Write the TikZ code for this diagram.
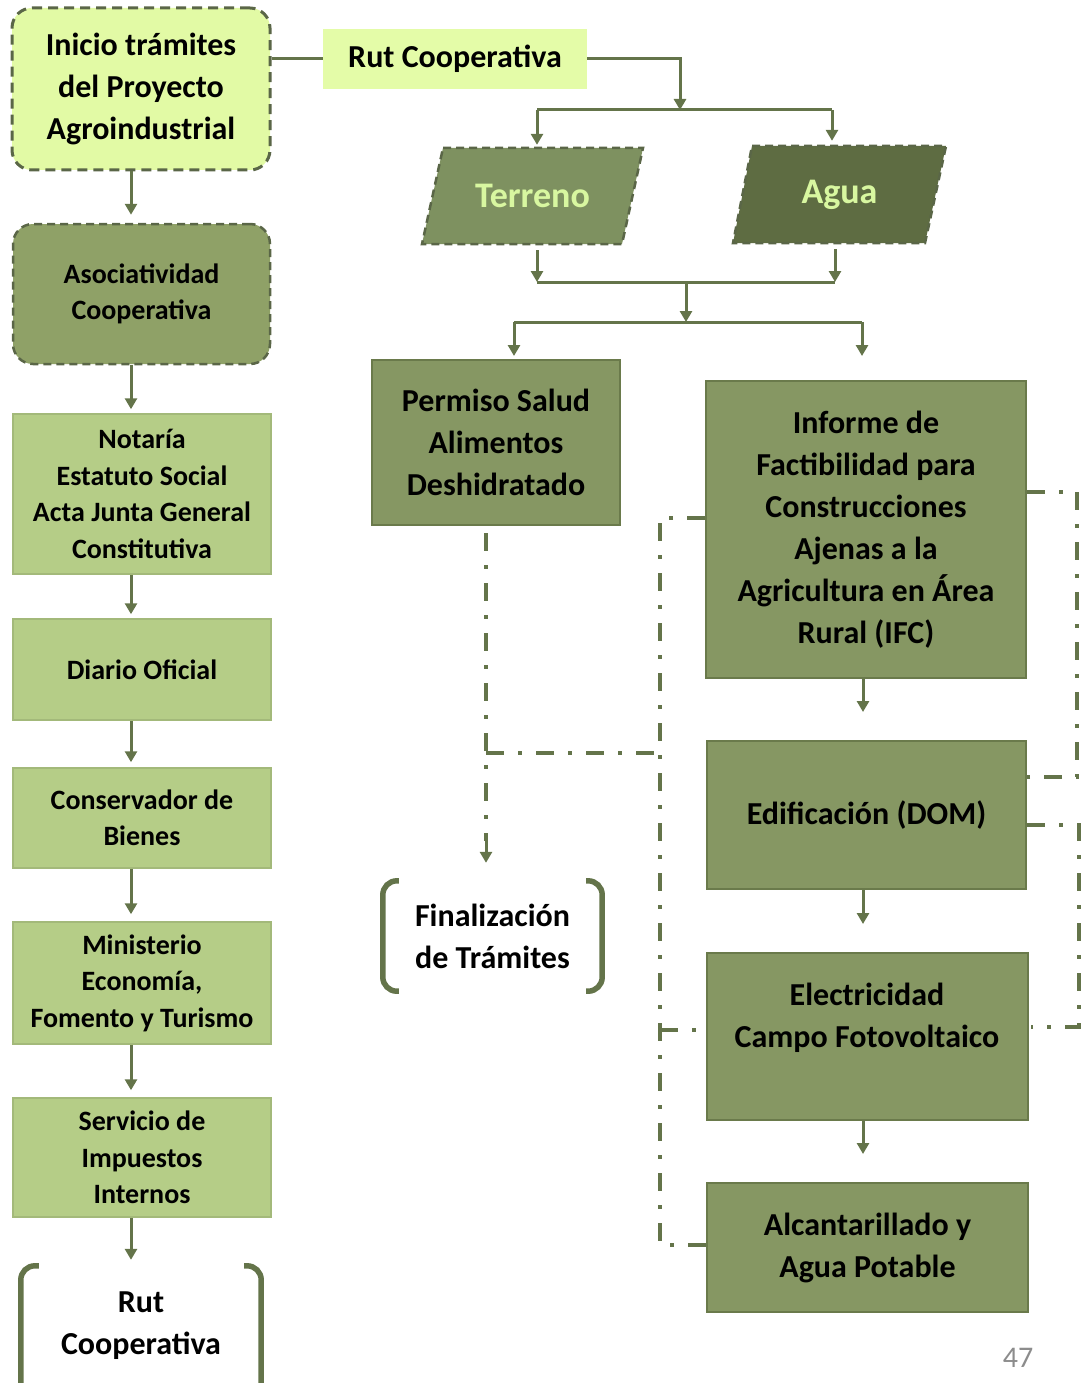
\documentclass[tikz,border=0pt]{standalone}
\usepackage{fontspec}
\setmainfont{Carlito}
\usetikzlibrary{arrows.meta,calc}
\definecolor{lineC}{HTML}{64744A}
\definecolor{dashB}{HTML}{5A6647}
\definecolor{inicioF}{HTML}{E2FAA5}
\definecolor{rutF}{HTML}{E4FCA8}
\definecolor{asocF}{HTML}{8FA167}
\definecolor{lightF}{HTML}{B5CD87}
\definecolor{lightB}{HTML}{A3B97A}
\definecolor{darkF}{HTML}{869763}
\definecolor{darkB}{HTML}{6A7A4B}
\definecolor{terrF}{HTML}{7E9160}
\definecolor{aguaF}{HTML}{5E6C42}
\definecolor{paraT}{HTML}{D8F7A0}
\definecolor{pgnum}{HTML}{8C8C8C}
\tikzset{
  big/.style={font=\fontsize{32}{42}\selectfont\bfseries, align=center, text=black},
  small/.style={font=\fontsize{28}{36.5}\selectfont\bfseries, align=center, text=black},
  paratext/.style={font=\fontsize{36}{42}\selectfont\bfseries, text=paraT, inner sep=0pt},
  inicio/.style={big, draw=dashB, fill=inicioF, line width=3pt, dash pattern=on 10pt off 6pt, rounded corners=20pt, minimum width=258pt, minimum height=162pt, inner sep=0pt},
  asoc/.style={small, draw=dashB, fill=asocF, line width=2.5pt, dash pattern=on 8pt off 5pt, rounded corners=20pt, minimum width=257pt, minimum height=140pt, inner sep=0pt},
  lightbox/.style={small, draw=lightB, fill=lightF, line width=1.5pt, minimum width=258pt, inner sep=0pt},
  darkbox/.style={big, draw=darkB, fill=darkF, line width=2pt, inner sep=0pt},
  para/.style={draw=dashB, line width=2.5pt, dash pattern=on 8pt off 5pt},
  ln/.style={draw=lineC, line width=3pt},
  arr/.style={draw=lineC, line width=3pt, -{Triangle[width=12pt,length=11pt]}},
  ddot/.style={draw=lineC, line width=4pt, dash pattern=on 18pt off 14pt on 4pt off 14pt},
  brk/.style={draw=lineC, line width=5.5pt, rounded corners=14pt},
}
\begin{document}
\begin{tikzpicture}[x=1pt,y=-1pt]
\useasboundingbox (0,0) rectangle (1088,1383);

% ---------- left column ----------
\node[inicio] (inicio) at (141,89) {Inicio trámites\\del Proyecto\\Agroindustrial};
\node[asoc] (asoc) at (141.5,294) {Asociatividad\\Cooperativa};
\node[lightbox, minimum height=160pt] (notaria) at (142,494) {Notaría\\Estatuto Social\\Acta Junta General\\Constitutiva};
\node[lightbox, minimum height=101pt] (diario) at (142,669.5) {Diario Oficial};
\node[lightbox, minimum height=100pt] (conserv) at (142,818) {Conservador de\\Bienes};
\node[lightbox, minimum height=122pt] (minis) at (142,983) {Ministerio\\Economía,\\Fomento y Turismo};
\node[lightbox, minimum height=119pt] (sii) at (142,1157.5) {Servicio de\\Impuestos\\Internos};
\node[big, minimum width=240pt, minimum height=120pt, inner sep=0pt] (rutb) at (141,1326) {Rut\\Cooperativa};
\draw[brk] ($(rutb.north west)+(18,0)$) -- (rutb.north west) -- ($(rutb.south west)+(0,14)$);
\draw[brk] ($(rutb.north east)+(-17,0)$) -- (rutb.north east) -- ($(rutb.south east)+(0,14)$);

\coordinate (colx) at (131,0);
\draw[arr, shorten >=8pt] (inicio.south -| colx) -- (asoc.north -| colx);
\draw[arr, shorten >=4pt] (asoc.south -| colx) -- (notaria.north -| colx);
\draw[arr, shorten >=4pt] (notaria.south -| colx) -- (diario.north -| colx);
\draw[arr, shorten >=5pt] (diario.south -| colx) -- (conserv.north -| colx);
\draw[arr, shorten >=7pt] (conserv.south -| colx) -- (minis.north -| colx);
\draw[arr, shorten >=7pt] (minis.south -| colx) -- (sii.north -| colx);
\draw[arr, shorten >=6pt] (sii.south -| colx) -- (rutb.north -| colx);

% ---------- top ----------
\node[big, fill=rutF, minimum width=264pt, minimum height=60pt, inner sep=0pt] (rut) at (455,59) {Rut Cooperativa};
\draw[ln] (inicio.east |- rut.west) -- (rut.west);
\coordinate (j1) at (680,110);
\draw[arr] (rut.east) -| (j1);
\coordinate (tl) at (537,110);
\coordinate (tr) at (832,110);
\draw[ln] (tl) -- (tr);

% parallelograms
\path[para, fill=terrF] (443,148) -- (643,148) -- (622,244) -- (422,244) -- cycle;
\node[paratext, minimum width=200pt, minimum height=96pt] (terreno) at (532.5,196) {Terreno};
\path[para, fill=aguaF] (752,146) -- (946,146) -- (925,243) -- (733,243) -- cycle;
\node[paratext, minimum width=192pt, minimum height=97pt] (agua) at (839.5,194.5) {Agua};
\draw[arr, shorten >=3pt] (tl) -- (terreno.north -| tl);
\draw[arr, shorten >=5pt] (tr) -- (agua.north -| tr);

\coordinate (bl) at (537,282);
\coordinate (br) at (835,282);
\draw[arr, shorten <=6pt] (terreno.south -| bl) -- (bl);
\draw[arr, shorten <=6pt] (agua.south -| br) -- (br);
\draw[ln] (bl) -- (br);
\coordinate (mid) at (686,282);
\coordinate (sl) at (514,322);
\coordinate (sr) at (862,322);
\draw[arr] (mid) -- (mid |- sl);
\draw[ln] (sl) -- (sr);

% ---------- middle & right ----------
\node[darkbox, minimum width=248pt, minimum height=165pt] (perm) at (496,442.5) {Permiso Salud\\Alimentos\\Deshidratado};
\node[darkbox, minimum width=320pt, minimum height=297pt] (inf) at (866,529.5) {Informe de\\Factibilidad para\\Construcciones\\Ajenas a la\\Agricultura en Área\\Rural (IFC)};
\node[darkbox, minimum width=319pt, minimum height=148pt] (edif) at (866.5,815) {Edificación (DOM)};
\node[darkbox, minimum width=321pt, minimum height=167pt] (elec) at (867.5,1036.5) {};
\node[big] (electxt) at (867,1018) {Electricidad\\Campo Fotovoltaico};
\node[darkbox, minimum width=321pt, minimum height=129pt] (alc) at (867.5,1247.5) {Alcantarillado y\\Agua Potable};
\node[big, minimum width=219pt, minimum height=110pt, inner sep=0pt] (fin) at (492.5,936) {Finalización\\de Trámites};
\draw[brk] ($(fin.north west)+(16,0)$) -- (fin.north west) -- (fin.south west) -- ($(fin.south west)+(16,0)$);
\draw[brk] ($(fin.north east)+(-16,0)$) -- (fin.north east) -- (fin.south east) -- ($(fin.south east)+(-16,0)$);

\draw[arr, shorten >=3pt] (sl) -- (perm.north -| sl);
\draw[arr, shorten >=24pt] (sr) -- (inf.north -| sr);
\coordinate (rx) at (863,0);
\draw[arr, shorten >=28pt] (inf.south -| rx) -- (edif.north -| rx);
\draw[arr, shorten >=28pt] (edif.south -| rx) -- (elec.north -| rx);
\draw[arr, shorten >=28pt] (elec.south -| rx) -- (alc.north -| rx);

% dash-dot connectors
\coordinate (d1) at (486,753);
\coordinate (l1) at (660,518);
\coordinate (l2) at (660,1245);
\coordinate (l3) at (660,1030);
\draw[ddot, shorten <=7pt] (perm.south -| d1) -- ($(fin.north -| d1)+(0,-40)$);
\draw[arr, shorten >=18pt] ($(fin.north -| d1)+(0,-40)$) -- (fin.north -| d1);
\draw[ddot] (d1) -- (d1 -| l1);
\draw[ddot] (inf.west |- l1) -- (l1) -- (l2) -- ($(alc.west |- l2)+(11,0)$);
\draw[ddot] (l3) -- (elec.west |- l3);

\coordinate (r1) at (1077,492);
\coordinate (r2) at (1077,777);
\coordinate (r3) at (1079,825);
\coordinate (r4) at (1079,1027);
\draw[ddot] (inf.east |- r1) -- (r1) -- (r2) -- (edif.east |- r2);
\draw[ddot] (edif.east |- r3) -- (r3) -- (r4) -- ($(elec.east |- r4)+(2,0)$);

% page number
\node[font=\fontsize{30}{36}\selectfont, text=pgnum] (pg) at (1018,1358) {47};
\end{tikzpicture}
\end{document}
